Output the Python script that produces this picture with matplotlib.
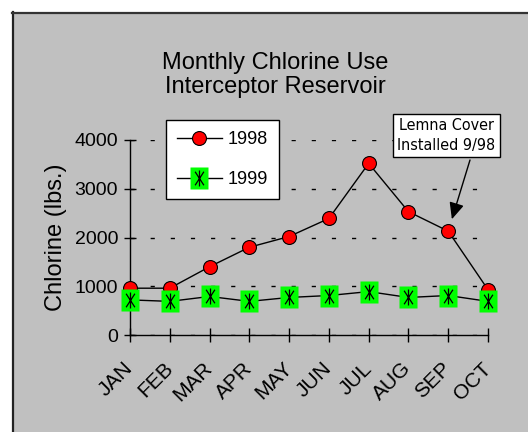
import matplotlib
matplotlib.use("Agg")
import matplotlib.pyplot as plt
from matplotlib.path import Path
from matplotlib.lines import Line2D
from matplotlib.legend_handler import HandlerTuple
from matplotlib.patches import Rectangle
import numpy as np

months = ["JAN", "FEB", "MAR", "APR", "MAY", "JUN", "JUL", "AUG", "SEP", "OCT"]
use_1998 = [960, 960, 1400, 1800, 2020, 2390, 3520, 2530, 2130, 930]
use_1999 = [720, 690, 790, 690, 770, 810, 890, 770, 810, 690]
yticks = [0, 1000, 2000, 3000, 4000]
title = "Monthly Chlorine Use\nInterceptor Reservoir"
ylabel = "Chlorine (lbs.)"
note = "Lemna Cover\nInstalled 9/98"

plt.rcParams['font.family'] = ['Liberation Sans', 'DejaVu Sans']

W, H = 528, 432
fig = plt.figure(figsize=(W / 100, H / 100), dpi=100)
fig.patch.set_facecolor('white')

# gray panel with dark left/top borders
fig.add_artist(Rectangle((12 / W, 0), 1 - 12 / W, 1 - 12 / H, transform=fig.transFigure,
                         facecolor='#C0C0C0', edgecolor='none', zorder=-5))
fig.add_artist(Line2D([12.5 / W, 12.5 / W], [0, 1 - 12 / H], transform=fig.transFigure,
                      color='#222222', lw=1.6, zorder=-4))
fig.add_artist(Line2D([12 / W, 1], [1 - 12.5 / H, 1 - 12.5 / H], transform=fig.transFigure,
                      color='#333333', lw=1.6, zorder=-4))

ax = fig.add_axes([130 / W, (H - 335) / H, 358 / W, 195 / H])
ax.set_facecolor('none')

x = np.arange(len(months))

# custom markers
rect = Path([(-0.8, -1), (0.8, -1), (0.8, 1), (-0.8, 1), (-0.8, -1)],
            [Path.MOVETO, Path.LINETO, Path.LINETO, Path.LINETO, Path.CLOSEPOLY])
ast = Path([(0, -1), (0, 1), (-0.55, -0.85), (0.55, 0.85), (-0.55, 0.85), (0.55, -0.85)],
           [Path.MOVETO, Path.LINETO, Path.MOVETO, Path.LINETO, Path.MOVETO, Path.LINETO])

l98, = ax.plot(x, use_1998, color='black', lw=1.0, marker='o', markersize=10,
               markerfacecolor='#FF0000', markeredgecolor='black', markeredgewidth=0.8,
               clip_on=False, zorder=3)
l99, = ax.plot(x, use_1999, color='black', lw=1.0, marker=rect, markersize=15.5,
               markerfacecolor='#00FF00', markeredgecolor='none', clip_on=False, zorder=4)
a99, = ax.plot(x, use_1999, linestyle='none', marker=ast, markersize=11.5,
               markerfacecolor='none', markeredgecolor='black', markeredgewidth=0.9,
               clip_on=False, zorder=5)

ax.set_xlim(0, len(months) - 1)
ax.set_ylim(0, 4000)
ax.set_yticks(yticks)
ax.set_xticks(x)
ax.set_xticklabels(months, rotation=45, ha='right', va='center', rotation_mode='anchor',
                   fontsize=15)
ax.set_yticklabels([str(v) for v in yticks], fontsize=14)
ax.tick_params(axis='y', direction='inout', length=9, width=1, pad=4)
ax.tick_params(axis='x', direction='inout', length=10, width=1, pad=17)
for s in ['top', 'right']:
    ax.spines[s].set_visible(False)
for s in ['left', 'bottom']:
    ax.spines[s].set_linewidth(1)
ax.yaxis.grid(True, color='black', lw=1.0, dashes=(3, 11.5))
ax.set_axisbelow(True)

pos = ax.get_position()
ax.set_ylabel(ylabel, fontsize=17)
ax.yaxis.set_label_coords(56 / W, pos.y0 + pos.height / 2, transform=fig.transFigure)
ax.yaxis.label.set_va('center')

fig.text(275 / W, 1 - 75 / H, title, ha='center', va='center', fontsize=17,
         linespacing=1.17)

leg = ax.legend([l98, (l99, a99)], ['1998', '1999'],
                handler_map={tuple: HandlerTuple(ndivide=1)},
                loc='upper left', bbox_to_anchor=(166 / W, 1 - 120 / H),
                bbox_transform=fig.transFigure, borderaxespad=0,
                fontsize=13, frameon=True, fancybox=False, framealpha=1,
                edgecolor='black', handlelength=2.5, handletextpad=0.3,
                labelspacing=1.3, borderpad=0.6, numpoints=1)
leg.get_frame().set_linewidth(1.0)

# annotation box and arrow
fig.text(446.5 / W, 1 - 135.5 / H, note, ha='center', va='center', fontsize=11.5,
         family='DejaVu Sans', fontstretch='condensed', linespacing=1.35,
         bbox=dict(boxstyle='square,pad=0.3', facecolor='white', edgecolor='black', lw=1.0))
ax.annotate('', xy=(8, use_1998[8]), xycoords='data',
            xytext=(470, H - 160), textcoords='figure pixels',
            arrowprops=dict(arrowstyle='-|>,head_length=1.0,head_width=0.45', color='black',
                            lw=1.0, shrinkA=0, shrinkB=9))

fig.savefig('out.png', dpi=100, facecolor='white')
